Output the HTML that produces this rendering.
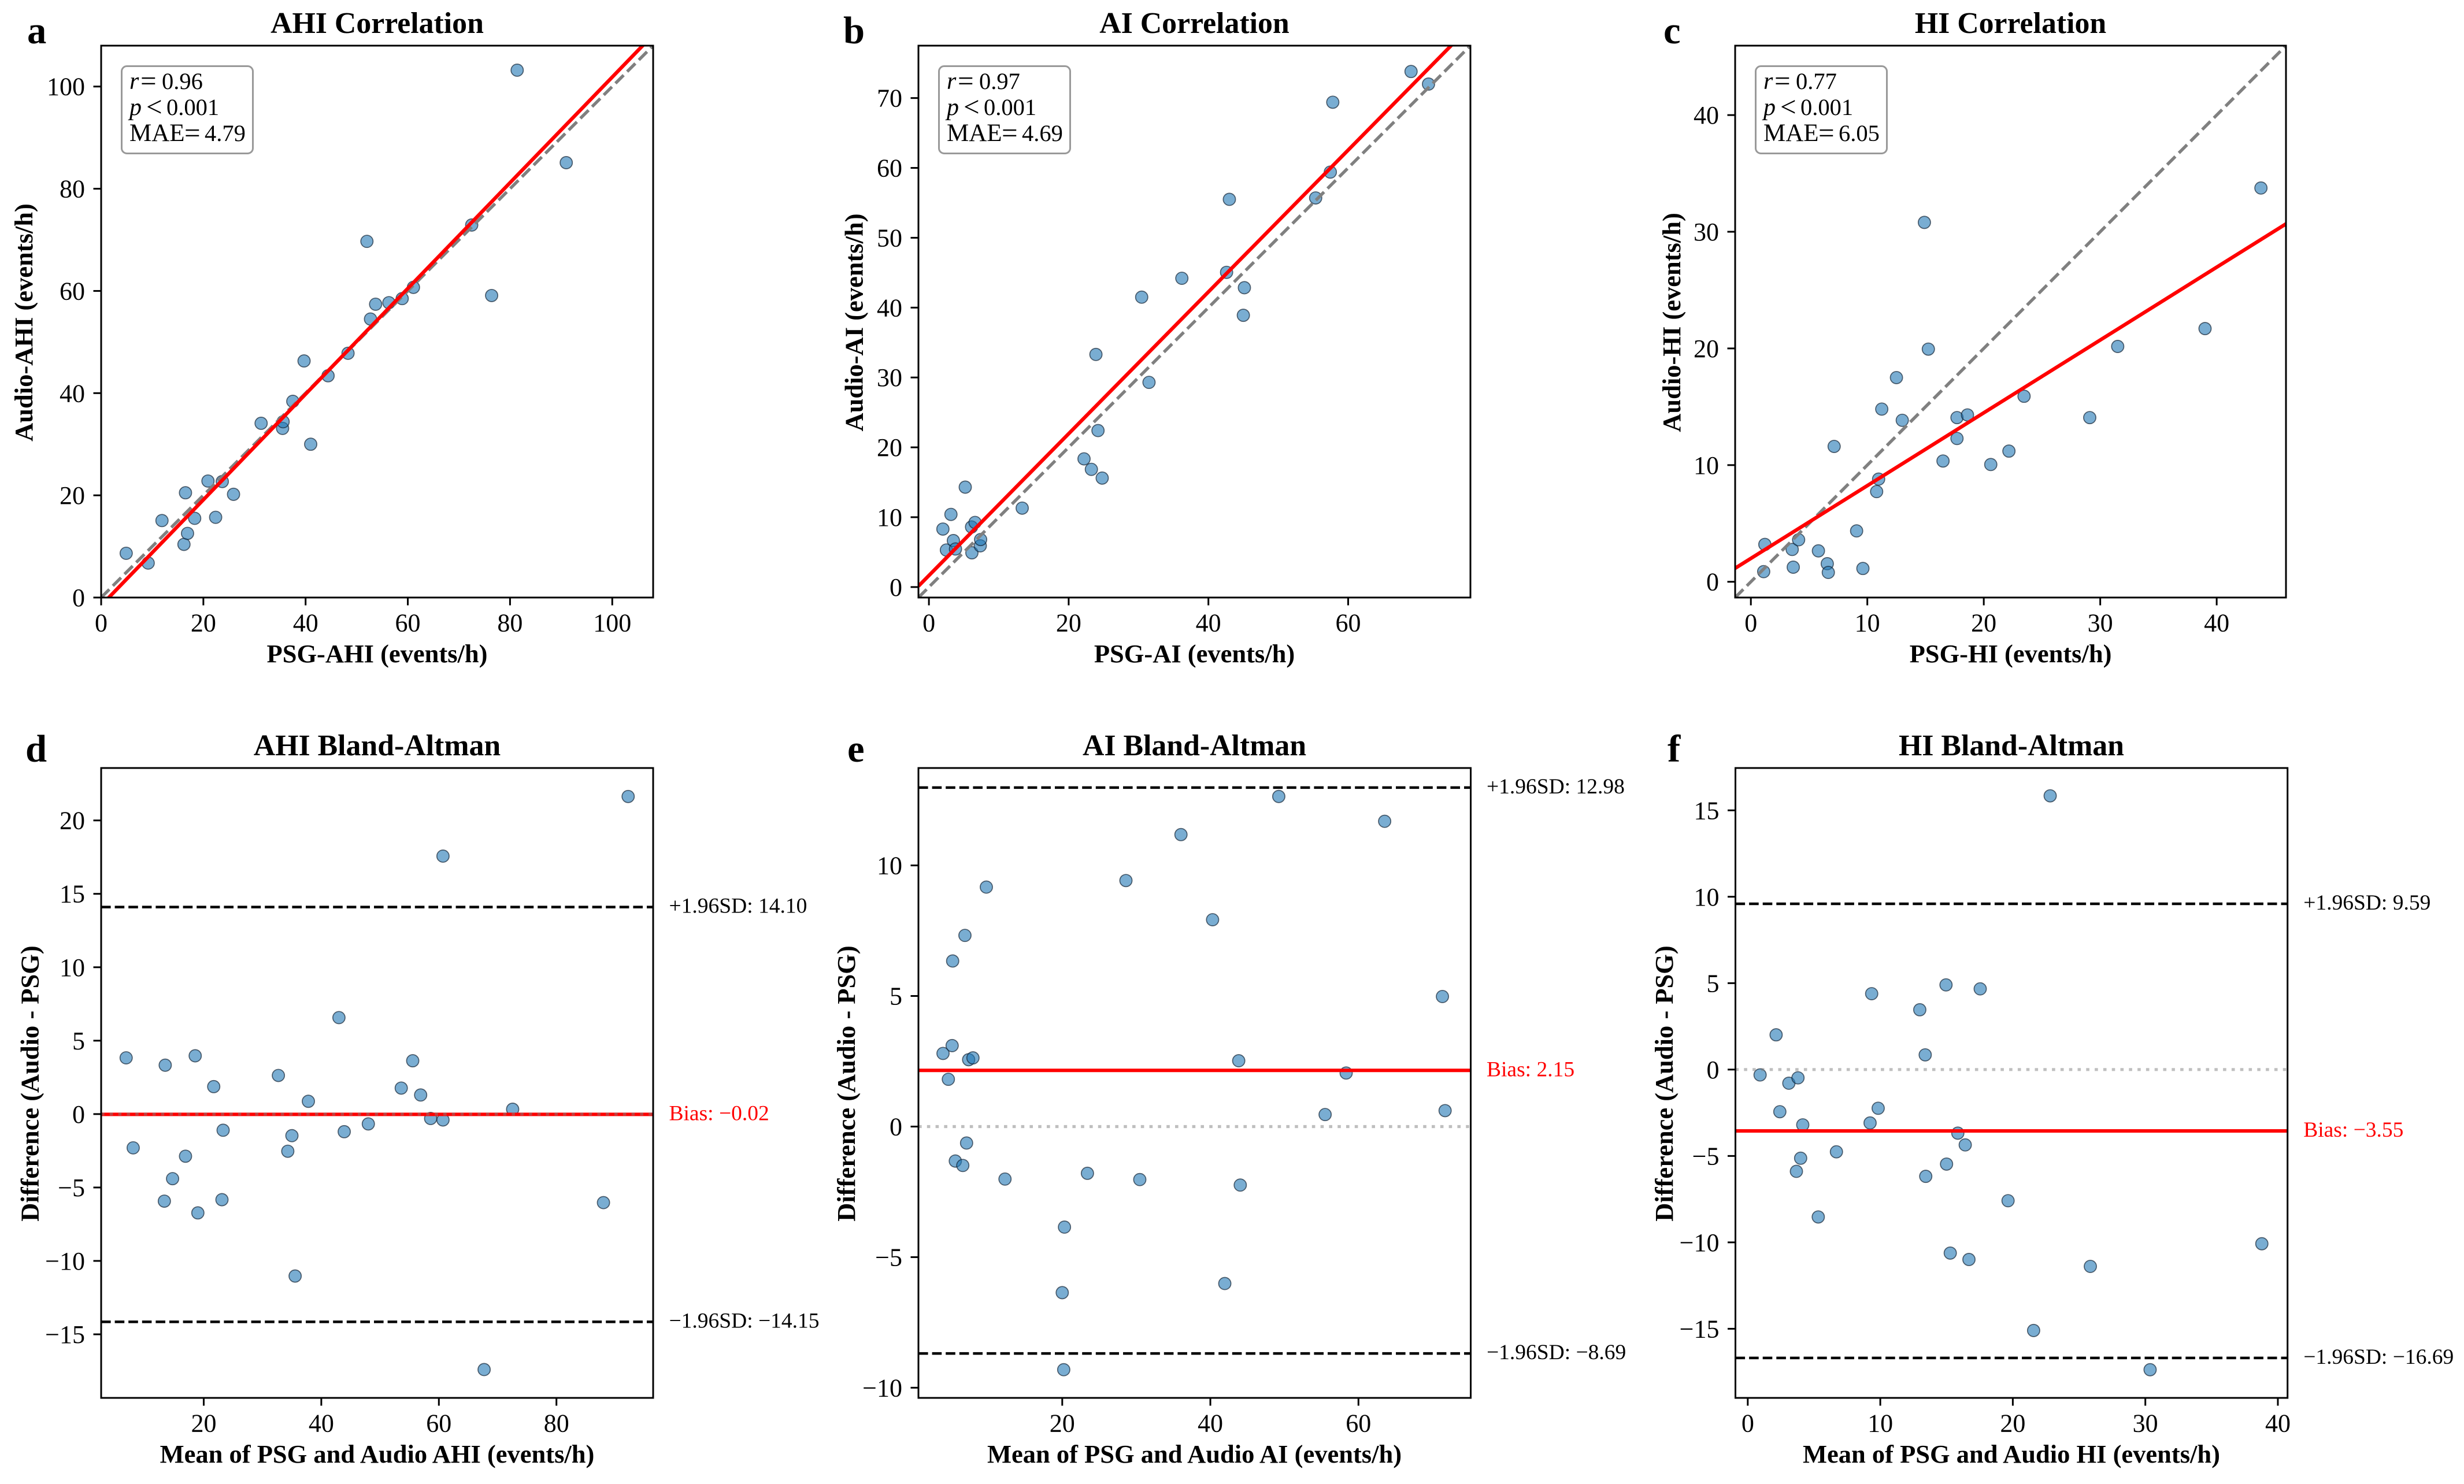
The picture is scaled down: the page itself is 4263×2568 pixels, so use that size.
<!DOCTYPE html>
<html lang="en">
<head>
<meta charset="utf-8">
<title>Correlation and Bland-Altman panels</title>
<style>
html,body{margin:0;padding:0;background:#fff;}
svg{display:block;}
text{font-family:"Liberation Serif","Times New Roman",serif;fill:#000;}
.title{font-size:51.8px;font-weight:bold;text-anchor:middle;}
.axis-label{font-size:44.5px;font-weight:bold;text-anchor:middle;}
.letter{font-size:66.7px;font-weight:bold;}
.stat{font-size:40.5px;}
.stat tspan.i{font-style:italic;font-size:42px;}
.stat tspan.w{font-size:43px;}
.stat tspan.eq{font-size:49px;}
.tick{font-size:44px;}
.ref{font-size:37.5px;}
</style>
</head>
<body>
<svg id="figure" xmlns="http://www.w3.org/2000/svg" width="4263" height="2568" viewBox="0 0 4263 2568">
  <rect x="0" y="0" width="4263" height="2568" fill="#fff"/>

  <g id="panel-a"></g>
  <g id="panel-b"></g>
  <g id="panel-c"></g>
  <g id="panel-d"></g>
  <g id="panel-e"></g>
  <g id="panel-f"></g>

  <text class="letter" x="47" y="75">a</text>
  <text class="letter" x="1459" y="75">b</text>
  <text class="letter" x="2878" y="75">c</text>
  <text class="letter" x="44" y="1318">d</text>
  <text class="letter" x="1466" y="1318">e</text>
  <text class="letter" x="2885" y="1318">f</text>

  <text class="title" x="652.5" y="57">AHI Correlation</text>
  <text class="title" x="2066.5" y="57">AI Correlation</text>
  <text class="title" x="3478.5" y="57">HI Correlation</text>
  <text class="title" x="652.5" y="1307">AHI Bland-Altman</text>
  <text class="title" x="2066.5" y="1307">AI Bland-Altman</text>
  <text class="title" x="3480" y="1307">HI Bland-Altman</text>

  <text class="axis-label" x="652.5" y="1146">PSG-AHI (events/h)</text>
  <text class="axis-label" x="2066.5" y="1146">PSG-AI (events/h)</text>
  <text class="axis-label" x="3478.5" y="1146">PSG-HI (events/h)</text>
  <text class="axis-label" x="652.5" y="2531">Mean of PSG and Audio AHI (events/h)</text>
  <text class="axis-label" x="2066.5" y="2531">Mean of PSG and Audio AI (events/h)</text>
  <text class="axis-label" x="3480" y="2531">Mean of PSG and Audio HI (events/h)</text>

  <text class="axis-label" transform="translate(56 558) rotate(-90)">Audio-AHI (events/h)</text>
  <text class="axis-label" transform="translate(1492.5 558) rotate(-90)">Audio-AI (events/h)</text>
  <text class="axis-label" transform="translate(2907 558) rotate(-90)">Audio-HI (events/h)</text>
  <text class="axis-label" transform="translate(66.5 1875) rotate(-90)">Difference (Audio - PSG)</text>
  <text class="axis-label" transform="translate(1479 1875) rotate(-90)">Difference (Audio - PSG)</text>
  <text class="axis-label" transform="translate(2894 1875) rotate(-90)">Difference (Audio - PSG)</text>

  <g transform="translate(175 0)">
    <rect x="35.5" y="114.5" width="227" height="151" rx="9" ry="9" fill="#fff" stroke="#999" stroke-width="3"/>
    <text class="stat"><tspan class="i" x="49" y="154">r</tspan><tspan class="eq" x="68" y="156">=</tspan><tspan x="105" y="154">0.96</tspan></text>
    <text class="stat"><tspan class="i" x="49" y="199">p</tspan><tspan class="eq" x="78" y="201">&lt;</tspan><tspan x="113" y="199">0.001</tspan></text>
    <text class="stat"><tspan class="w" x="49" y="244">MAE</tspan><tspan class="eq" x="144" y="246">=</tspan><tspan x="179" y="244">4.79</tspan></text>
  </g>
  <g transform="translate(1589 0)">
    <rect x="35.5" y="114.5" width="227" height="151" rx="9" ry="9" fill="#fff" stroke="#999" stroke-width="3"/>
    <text class="stat"><tspan class="i" x="49" y="154">r</tspan><tspan class="eq" x="68" y="156">=</tspan><tspan x="105" y="154">0.97</tspan></text>
    <text class="stat"><tspan class="i" x="49" y="199">p</tspan><tspan class="eq" x="78" y="201">&lt;</tspan><tspan x="113" y="199">0.001</tspan></text>
    <text class="stat"><tspan class="w" x="49" y="244">MAE</tspan><tspan class="eq" x="144" y="246">=</tspan><tspan x="179" y="244">4.69</tspan></text>
  </g>
  <g transform="translate(3002 0)">
    <rect x="35.5" y="114.5" width="227" height="151" rx="9" ry="9" fill="#fff" stroke="#999" stroke-width="3"/>
    <text class="stat"><tspan class="i" x="49" y="154">r</tspan><tspan class="eq" x="68" y="156">=</tspan><tspan x="105" y="154">0.77</tspan></text>
    <text class="stat"><tspan class="i" x="49" y="199">p</tspan><tspan class="eq" x="78" y="201">&lt;</tspan><tspan x="113" y="199">0.001</tspan></text>
    <text class="stat"><tspan class="w" x="49" y="244">MAE</tspan><tspan class="eq" x="144" y="246">=</tspan><tspan x="179" y="244">6.05</tspan></text>
  </g>
</svg>

<script>
// ---- Panel a: AHI correlation ----
const aPsg = [4.9,9.2,11.9,16.2,16.5,16.9,18.3,20.9,22.4,23.7,25.9,31.3,35.5,35.6,37.5,39.7,41.0,44.4,48.3,52.0,52.7,53.7,56.3,58.9,61.1,72.5,76.4,81.4,91.0];
const aAudio = [8.66,6.75,15.06,10.4,20.5,12.55,15.5,22.8,15.7,22.7,20.2,34.1,33.1,34.4,38.4,46.3,30.0,43.4,47.8,69.7,54.5,57.4,57.7,58.5,60.7,72.9,59.1,103.2,85.1];
const aFit = [1.034, -1.55];
const aXDomain = [0, 108];
const aYDomain = [0, 108];
const aXTicks = [0,20,40,60,80,100];
const aYTicks = [0,20,40,60,80,100];

// ---- Panel b: AI correlation ----
const bPsg = [2.0,2.5,3.15,3.5,3.8,5.2,6.15,6.1,6.6,7.35,7.4,13.35,22.2,23.25,23.9,24.2,24.8,30.45,31.5,36.2,42.6,43.0,45.0,45.15,55.35,57.45,57.8,69.0,71.5];
const bAudio = [8.3,5.3,10.4,6.65,5.45,14.3,4.9,8.6,9.25,5.9,6.8,11.3,18.35,16.85,33.3,22.4,15.6,41.5,29.3,44.2,45.05,55.5,38.9,42.85,55.7,59.4,69.4,73.8,72.0];
const bFit = [1.015, 1.65];
const bXDomain = [-1.5, 77.5];
const bYDomain = [-1.5, 77.5];
const bXTicks = [0,20,40,60];
const bYTicks = [0,10,20,30,40,50,60,70];

// ---- Panel c: HI correlation ----
const cPsg = [1.2,1.1,3.55,3.64,4.1,5.8,6.56,6.65,7.15,9.08,9.62,10.8,10.97,11.24,12.5,13.0,14.9,15.24,16.5,17.7,17.7,18.6,20.6,22.16,23.46,29.1,31.5,39.0,43.8];
const cAudio = [3.2,0.87,2.77,1.25,3.6,2.65,1.55,0.8,11.6,4.36,1.14,7.73,8.8,14.8,17.5,13.84,30.8,19.94,10.35,12.28,14.07,14.3,10.05,11.2,15.9,14.07,20.17,21.7,33.75];
const cFit = [0.624, 2.0];
const cXDomain = [-1.35, 45.95];
const cYDomain = [-1.35, 45.95];
const cXTicks = [0,10,20,30,40];
const cYTicks = [0,10,20,30,40];

// ---- Panel d: AHI Bland-Altman ----
const dMean = [6.8,8.0,13.45,13.3,14.7,16.9,18.55,19.0,21.7,23.1,23.3,32.7,34.3,35.0,35.55,37.8,43.0,43.9,48.0,53.6,55.55,56.9,58.6,60.7,60.7,67.7,72.55,88.0,92.2];
const dDiff = [3.83,-2.3,3.33,-5.93,-4.4,-2.87,3.97,-6.73,1.87,-5.83,-1.1,2.63,-2.53,-1.47,-11.03,0.87,6.57,-1.2,-0.67,1.77,3.63,1.3,-0.3,-0.4,17.57,-17.4,0.33,-6.03,21.63];
const dAgreement = [-0.02, 14.10, -14.15];
const dXDomain = [2.55, 96.45];
const dYDomain = [-19.33, 23.57];
const dXTicks = [20,40,60,80];
const dYTicks = [-15,-10,-5,0,5,10,15,20];

// ---- Panel e: AI Bland-Altman ----
const eMean = [3.9,4.62,5.13,5.2,5.56,6.57,6.86,7.08,7.36,7.94,9.75,12.27,20.0,20.2,20.3,23.4,28.6,30.47,36.03,40.3,41.95,43.83,44.04,49.24,55.5,58.34,63.54,71.34,71.7];
const eDiff = [2.80,1.81,3.10,6.34,-1.32,-1.49,7.32,-0.63,2.56,2.63,9.17,-2.01,-6.36,-9.31,-3.85,-1.79,9.42,-2.03,11.18,7.92,-6.01,2.52,-2.24,12.64,0.46,2.05,11.69,4.98,0.61];
const eAgreement = [2.15, 12.98, -8.69];
const eXDomain = [0.58, 75.16];
const eYDomain = [-10.39, 13.73];
const eXTicks = [20,40,60];
const eYTicks = [-10,-5,0,5,10];

// ---- Panel f: HI Bland-Altman ----
const fMean = [0.93,2.14,2.42,3.1,3.67,3.79,3.99,4.15,5.32,6.69,9.23,9.35,9.84,12.98,13.39,13.43,14.96,15.0,15.28,15.85,16.41,16.69,17.54,19.64,21.57,22.82,25.85,30.36,38.79];
const fDiff = [-0.31,2.01,-2.44,-0.79,-5.89,-0.48,-5.13,-3.2,-8.53,-4.76,-3.09,4.39,-2.24,3.46,0.85,-6.18,4.9,-5.47,-10.62,-3.68,-4.36,-10.99,4.67,-7.59,-15.1,15.84,-11.39,-17.37,-10.08];
const fAgreement = [-3.55, 9.59, -16.69];
const fXDomain = [-0.93, 40.73];
const fYDomain = [-19.0, 17.45];
const fXTicks = [0,10,20,30,40];
const fYTicks = [-15,-10,-5,0,5,10,15];

const NS = 'http://www.w3.org/2000/svg';

function make(tag, parent, attrs) {
  const el = document.createElementNS(NS, tag);
  for (const k in attrs) el.setAttribute(k, attrs[k]);
  parent.appendChild(el);
  return el;
}
function fmtTick(v) { return String(v).replace('-', '\u2212'); }
function fmtValue(v) { return v.toFixed(2).replace('-', '\u2212'); }

function scaleLinear(domain, range) {
  return function (v) {
    return range[0] + (v - domain[0]) / (domain[1] - domain[0]) * (range[1] - range[0]);
  };
}

function drawFrame(g, id, box, xs, ys, xTicks, yTicks) {
  xTicks.forEach(function (t) {
    const mark = make('line', g, {x1: xs(t), x2: xs(t), y1: box.bottom, y2: box.bottom + 13.5, stroke: '#000', 'stroke-width': 3});
    
    
    const label = make('text', g, {class: 'tick', x: xs(t), y: box.bottom + 58.5, 'text-anchor': 'middle'});
    label.textContent = fmtTick(t);
    
    
  });
  yTicks.forEach(function (t) {
    const mark = make('line', g, {x1: box.left - 13.5, x2: box.left, y1: ys(t), y2: ys(t), stroke: '#000', 'stroke-width': 3});
    
    
    const label = make('text', g, {class: 'tick', x: box.left - 28, y: ys(t) + 15, 'text-anchor': 'end'});
    label.textContent = fmtTick(t);
    
    
  });
  const frame = make('rect', g, {x: box.left, y: box.top, width: box.right - box.left, height: box.bottom - box.top, fill: 'none', stroke: '#000', 'stroke-width': 3});
  
  
}

function makeClip(g, id, box) {
  const defs = make('defs', g, {});
  const clip = make('clipPath', defs, {id: 'clip-' + id});
  make('rect', clip, {x: box.left, y: box.top, width: box.right - box.left, height: box.bottom - box.top});
  return 'url(#clip-' + id + ')';
}

function drawPoints(g, id, xVals, yVals, xs, ys) {
  xVals.forEach(function (v, i) {
    const dot = make('circle', g, {cx: xs(v), cy: ys(yVals[i]), r: 10.6, fill: '#1f77b4', 'fill-opacity': 0.6, stroke: '#0c1c2c', 'stroke-opacity': 0.66, 'stroke-width': 1.7});
    
    
  });
}

function drawCorrelation(id, box, psg, audio, fit, xDom, yDom, xTicks, yTicks) {
  const g = document.getElementById('panel-' + id);
  const xs = scaleLinear(xDom, [box.left, box.right]);
  const ys = scaleLinear(yDom, [box.bottom, box.top]);
  const clip = makeClip(g, id, box);
  const plot = make('g', g, {'clip-path': clip});
  
  
  drawPoints(plot, id, psg, audio, xs, ys);
  const lo = Math.min(xDom[0], yDom[0]);
  const hi = Math.max(xDom[1], yDom[1]);
  const identity = make('line', plot, {x1: xs(lo), y1: ys(lo), x2: xs(hi), y2: ys(hi), stroke: '#808080', 'stroke-width': 5.4, 'stroke-dasharray': '20 8.6'});
  
  
  const fitLine = make('line', plot, {x1: xs(xDom[0]), y1: ys(fit[0] * xDom[0] + fit[1]), x2: xs(xDom[1]), y2: ys(fit[0] * xDom[1] + fit[1]), stroke: '#f00', 'stroke-width': 6.25});
  
  
  drawFrame(g, id, box, xs, ys, xTicks, yTicks);
}

function drawBland(id, box, mean, diff, agreement, xDom, yDom, xTicks, yTicks) {
  const g = document.getElementById('panel-' + id);
  const xs = scaleLinear(xDom, [box.left, box.right]);
  const ys = scaleLinear(yDom, [box.bottom, box.top]);
  const clip = makeClip(g, id, box);
  const plot = make('g', g, {'clip-path': clip});
  
  
  drawPoints(plot, id, mean, diff, xs, ys);

  const bias = make('line', plot, {x1: box.left, x2: box.right, y1: ys(agreement[0]), y2: ys(agreement[0]), stroke: '#f00', 'stroke-width': 6});
  
  

  const upper = make('line', plot, {x1: box.left, x2: box.right, y1: ys(agreement[1]), y2: ys(agreement[1]), stroke: '#000', 'stroke-width': 4.5, 'stroke-dasharray': '16.6 7'});
  
  

  const lower = make('line', plot, {x1: box.left, x2: box.right, y1: ys(agreement[2]), y2: ys(agreement[2]), stroke: '#000', 'stroke-width': 4.5, 'stroke-dasharray': '16.6 7'});
  
  

  const zero = make('line', plot, {x1: box.left, x2: box.right, y1: ys(0), y2: ys(0), stroke: '#808080', 'stroke-opacity': 0.5, 'stroke-width': 5.2, 'stroke-dasharray': '5.6 9.2'});
  
  

  drawFrame(g, id, box, xs, ys, xTicks, yTicks);

  const labelX = box.right + 27.5;
  const biasLabel = make('text', g, {class: 'ref', x: labelX, y: ys(agreement[0]) + 10, style: 'fill:#f00'});
  biasLabel.textContent = 'Bias: ' + fmtValue(agreement[0]);
  
  

  const upperLabel = make('text', g, {class: 'ref', x: labelX, y: ys(agreement[1]) + 10});
  upperLabel.textContent = '+1.96SD: ' + fmtValue(agreement[1]);
  
  

  const lowerLabel = make('text', g, {class: 'ref', x: labelX, y: ys(agreement[2]) + 10});
  lowerLabel.textContent = '\u22121.96SD: ' + fmtValue(agreement[2]);
  
  
}

drawCorrelation('a', {left: 175, right: 1130, top: 79, bottom: 1034}, aPsg, aAudio, aFit, aXDomain, aYDomain, aXTicks, aYTicks);
drawCorrelation('b', {left: 1589, right: 2544, top: 79, bottom: 1034}, bPsg, bAudio, bFit, bXDomain, bYDomain, bXTicks, bYTicks);
drawCorrelation('c', {left: 3002, right: 3955, top: 79, bottom: 1034}, cPsg, cAudio, cFit, cXDomain, cYDomain, cXTicks, cYTicks);
drawBland('d', {left: 175, right: 1130, top: 1329, bottom: 2419}, dMean, dDiff, dAgreement, dXDomain, dYDomain, dXTicks, dYTicks);
drawBland('e', {left: 1589, right: 2544.5, top: 1329, bottom: 2419}, eMean, eDiff, eAgreement, eXDomain, eYDomain, eXTicks, eYTicks);
drawBland('f', {left: 3002.5, right: 3957.7, top: 1329, bottom: 2419}, fMean, fDiff, fAgreement, fXDomain, fYDomain, fXTicks, fYTicks);
</script>
</body>
</html>
